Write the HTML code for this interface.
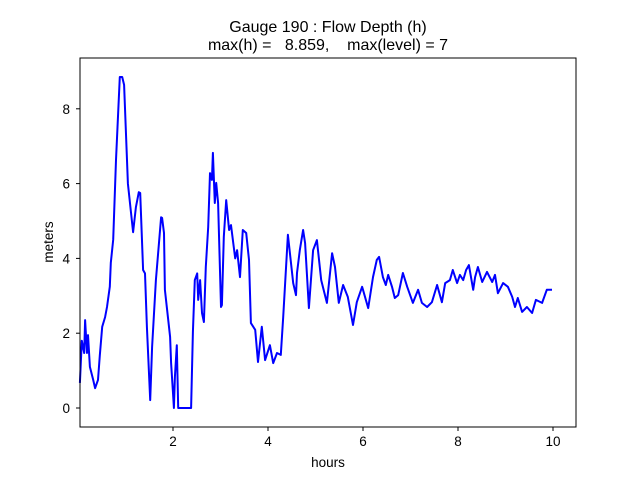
<!DOCTYPE html>
<html><head><meta charset="utf-8"><style>
body{margin:0;background:#fff}
svg text{font-family:"Liberation Sans","DejaVu Sans",sans-serif;fill:#000}
</style></head><body>
<svg id="chart" width="640" height="480">
<text x="328" y="32" font-size="16" text-anchor="middle">Gauge 190 : Flow Depth (h)</text>
<text x="328" y="50" font-size="16" text-anchor="middle" style="white-space:pre" xml:space="preserve">max(h) =   8.859,    max(level) = 7</text>
<text x="328" y="467" font-size="13.5" text-anchor="middle">hours</text>
<text transform="translate(53,242) rotate(-90)" font-size="13.5" text-anchor="middle">meters</text>
<g id="ticks"></g>
<path id="line" fill="none" stroke="#0000ff" stroke-width="2" stroke-linejoin="round"></path>
<rect x="80" y="58" width="496" height="369" fill="none" stroke="#000" stroke-width="1"></rect>
</svg>
<script>
const hours=[0.04,0.08,0.13,0.15,0.19,0.21,0.25,0.32,0.36,0.42,0.46,0.51,0.57,0.61,0.67,0.69,0.74,0.80,0.88,0.93,0.97,1.05,1.16,1.22,1.28,1.31,1.37,1.41,1.45,1.52,1.56,1.64,1.75,1.77,1.81,1.83,1.87,1.94,1.96,2.00,2.02,2.04,2.08,2.11,2.38,2.42,2.46,2.51,2.53,2.57,2.61,2.65,2.69,2.74,2.78,2.82,2.84,2.88,2.91,2.95,3.01,3.03,3.07,3.12,3.18,3.22,3.31,3.35,3.41,3.47,3.54,3.60,3.64,3.73,3.79,3.87,3.94,4.04,4.11,4.19,4.27,4.32,4.42,4.53,4.59,4.61,4.67,4.74,4.78,4.86,4.95,5.03,5.12,5.24,5.35,5.41,5.49,5.58,5.68,5.79,5.87,5.98,6.00,6.11,6.21,6.29,6.34,6.42,6.48,6.53,6.61,6.67,6.74,6.84,6.93,7.05,7.16,7.24,7.35,7.45,7.56,7.66,7.73,7.83,7.89,7.98,8.04,8.11,8.17,8.23,8.32,8.36,8.42,8.51,8.61,8.72,8.78,8.84,8.95,9.05,9.14,9.20,9.26,9.35,9.45,9.56,9.64,9.77,9.87,9.98];
const depth=[0.67,1.8,1.47,2.35,1.47,1.95,1.1,0.75,0.53,0.75,1.4,2.17,2.43,2.7,3.24,3.88,4.5,6.63,8.85,8.85,8.64,6.0,4.7,5.37,5.77,5.75,3.69,3.6,2.17,0.21,1.63,3.42,5.1,5.08,4.68,3.16,2.7,1.9,1.2,0.4,0,0.83,1.68,0,0,2.03,3.42,3.6,2.89,3.42,2.54,2.3,3.77,4.84,6.28,6.1,6.82,5.48,6.02,5.48,2.7,2.75,4.57,5.56,4.76,4.89,4.0,4.22,3.5,4.76,4.68,3.96,2.27,2.09,1.23,2.17,1.28,1.68,1.2,1.47,1.42,2.43,4.63,3.34,3.02,3.61,4.22,4.76,4.41,2.67,4.22,4.49,3.42,2.81,4.14,3.77,2.81,3.29,2.97,2.22,2.83,3.24,3.16,2.67,3.5,3.96,4.04,3.5,3.29,3.56,3.24,2.94,3.02,3.61,3.24,2.81,3.16,2.81,2.7,2.83,3.29,2.83,3.34,3.42,3.69,3.34,3.56,3.42,3.69,3.82,3.16,3.5,3.77,3.37,3.64,3.37,3.56,3.07,3.34,3.24,2.97,2.7,2.94,2.57,2.7,2.54,2.89,2.81,3.16,3.16];
const xTicks=[2,4,6,8,10];
const yTicks=[0,2,4,6,8];
const X=v=>78+v*47.5;
const Y=v=>408-v*37.4;
let d='';
for(let i=0;i<hours.length;i++){d+=(i?'L':'M')+X(hours[i]).toFixed(1)+','+Y(depth[i]).toFixed(1);}
document.getElementById('line').setAttribute('d',d);
const g=document.getElementById('ticks');
const NS='http://www.w3.org/2000/svg';
xTicks.forEach(t=>{
  const l=document.createElementNS(NS,'line');
  l.setAttribute('x1',X(t));l.setAttribute('x2',X(t));l.setAttribute('y1',427);l.setAttribute('y2',431);l.setAttribute('stroke','#000');
  
  
  g.appendChild(l);
  const tx=document.createElementNS(NS,'text');
  tx.setAttribute('x',X(t));tx.setAttribute('y',446);tx.setAttribute('font-size','13.5');tx.setAttribute('text-anchor','middle');
  tx.textContent=t;
  
  
  g.appendChild(tx);
});
yTicks.forEach(t=>{
  const l=document.createElementNS(NS,'line');
  l.setAttribute('x1',76);l.setAttribute('x2',80);l.setAttribute('y1',Y(t));l.setAttribute('y2',Y(t));l.setAttribute('stroke','#000');
  
  
  g.appendChild(l);
  const tx=document.createElementNS(NS,'text');
  tx.setAttribute('x',70);tx.setAttribute('y',Y(t)+5);tx.setAttribute('font-size','13.5');tx.setAttribute('text-anchor','end');
  tx.textContent=t;
  
  
  g.appendChild(tx);
});
</script>
</body></html>
